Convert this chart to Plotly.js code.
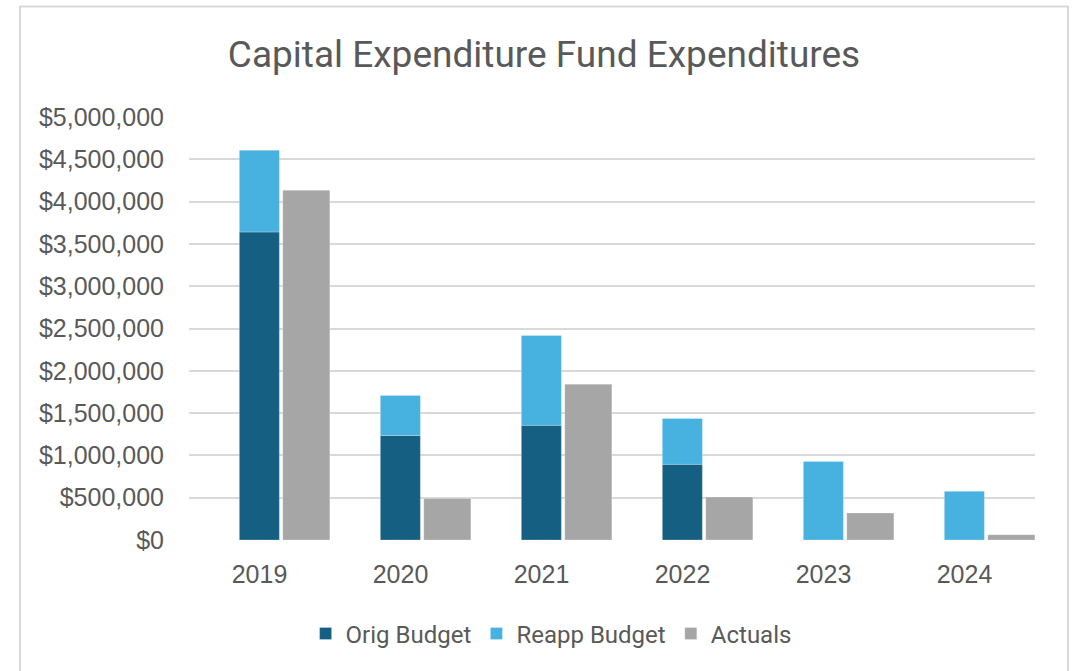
<!DOCTYPE html>
<html>
<head>
<meta charset="utf-8">
<script src="https://cdn.plot.ly/plotly-3.0.1.min.js"></script>
<style>
html,body{margin:0;padding:0;background:#fff;}
#chart{width:1076px;height:671px;}
</style>
</head>
<body>
<div id="chart"></div>
<script>
const years = ["2019", "2020", "2021", "2022", "2023", "2024"];
const origBudget = [3641000, 1236000, 1355000, 894000, 0, 0];
const reappBudget = [965000, 473000, 1062000, 543000, 929000, 575000];
const actuals = [4134000, 492000, 1842000, 508000, 319000, 63000];
const yTicks = [0, 500000, 1000000, 1500000, 2000000, 2500000, 3000000, 3500000, 4000000, 4500000, 5000000];

const textColor = "#595959";
const tickFont = {family: "Liberation Sans, Arial, sans-serif", size: 25, color: textColor};

const traces = [
  {
    type: "bar", name: "Orig Budget", x: years, y: origBudget,
    offset: -0.143, width: 0.284,
    marker: {color: "#156082", line: {color: "rgba(255,255,255,0.25)", width: 1}},
    hoverinfo: "skip"
  },
  {
    type: "bar", name: "Reapp Budget", x: years, y: reappBudget, base: origBudget,
    offset: -0.143, width: 0.284,
    marker: {color: "#47B1E0", line: {color: "rgba(255,255,255,0.25)", width: 1}},
    hoverinfo: "skip"
  },
  {
    type: "bar", name: "Actuals", x: years, y: actuals,
    offset: 0.165, width: 0.334,
    marker: {color: "#A6A6A6", line: {color: "rgba(255,255,255,0.25)", width: 1}},
    hoverinfo: "skip"
  }
];

const layout = {
  width: 1076, height: 671,
  paper_bgcolor: "#ffffff", plot_bgcolor: "#ffffff",
  barmode: "overlay",
  margin: {l: 189, r: 41, t: 117, b: 131, pad: 0},
  title: {
    text: "Capital Expenditure Fund Expenditures",
    font: {family: "Roboto, Liberation Sans, sans-serif", size: 37, color: textColor},
    x: 0.5056, xref: "container", xanchor: "center",
    y: 0.9195, yref: "container", yanchor: "middle"
  },
  xaxis: {
    type: "category", range: [-0.5, 5.5],
    showgrid: false, zeroline: false, showline: false, ticks: "",
    tickfont: tickFont, ticklabelstandoff: 17, fixedrange: true
  },
  yaxis: {
    range: [0, 5000000], tickvals: yTicks, tickformat: "$,.0f",
    showgrid: true, gridcolor: "#d9d9d9", gridwidth: 2,
    zeroline: false, showline: false, ticks: "",
    tickfont: tickFont, ticklabelstandoff: 24, fixedrange: true
  },
  legend: {
    orientation: "h", x: 0.428, xanchor: "center", y: -0.222, yanchor: "middle",
    font: {family: "Roboto, Liberation Sans, sans-serif", size: 24, color: textColor},
    traceorder: "normal", itemclick: false, itemdoubleclick: false,
    itemwidth: 30
  },
  shapes: [{
    type: "rect", xref: "paper", yref: "paper", layer: "below",
    x0: -0.1998, x1: 1.039, y0: -0.5, y1: 1.2615,
    line: {color: "#d9d9d9", width: 2}, fillcolor: "rgba(0,0,0,0)"
  }],
  showlegend: true
};

Plotly.newPlot("chart", traces, layout, {displayModeBar: false, staticPlot: true});
</script>
</body>
</html>
